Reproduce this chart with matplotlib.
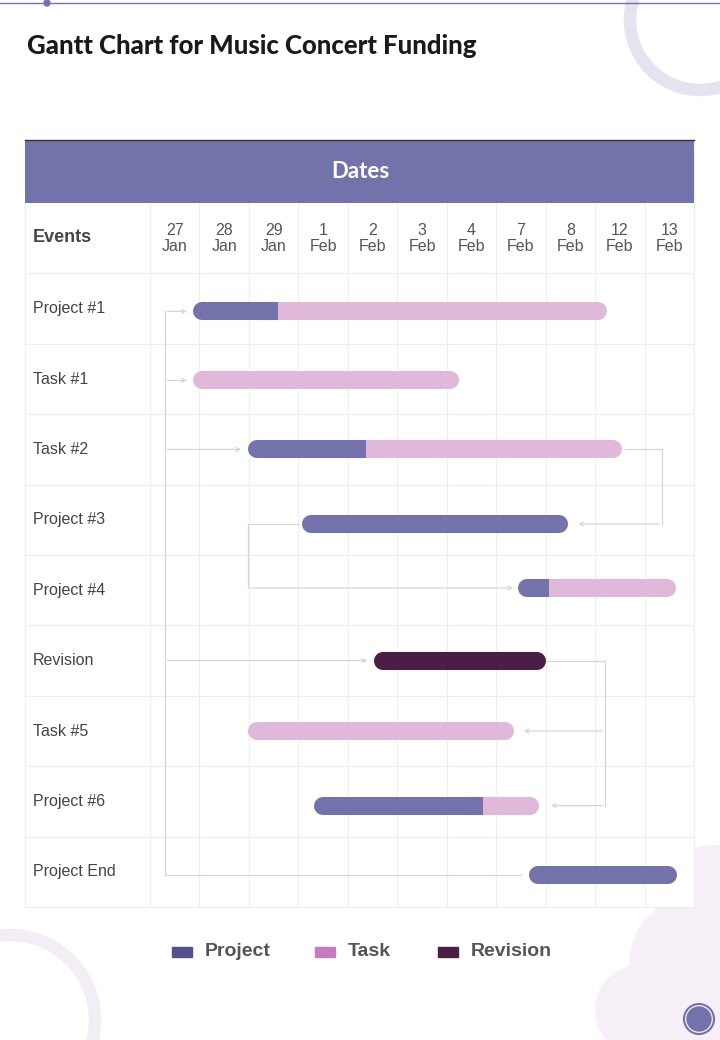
import matplotlib.pyplot as plt
from matplotlib.patches import Rectangle, Circle

events = ["Project #1", "Task #1", "Task #2", "Project #3", "Project #4",
          "Revision", "Task #5", "Project #6", "Project End"]
day_labels = ["27\nJan", "28\nJan", "29\nJan", "1\nFeb", "2\nFeb", "3\nFeb",
              "4\nFeb", "7\nFeb", "8\nFeb", "12\nFeb", "13\nFeb"]
# (start, split, end) in column units; segment before split is the dark part
bar_start = [0.87, 0.87, 1.98, 3.07, 7.44, 4.53, 1.98, 3.32, 7.66]
bar_split = [2.59, 0.87, 4.37, 8.45, 8.07, 8.00, 1.98, 6.73, 10.66]
bar_end = [9.24, 6.25, 9.54, 8.45, 10.64, 8.00, 7.36, 7.87, 10.66]
dark_kind = ["Project", "Project", "Project", "Project", "Project",
             "Revision", "Project", "Project", "Project"]

c_proj = "#7472ab"
c_task = "#e0b8d9"
c_rev = "#4a1e45"
line_c = "#d6d6da"
sans = "Liberation Sans"

W, H = 720, 1040
fig = plt.figure(figsize=(7.2, 10.4), dpi=100)
bg = fig.add_axes([0, 0, 1, 1])
bg.set_xlim(0, W)
bg.set_ylim(H, 0)
bg.axis("off")

# decorations
bg.plot([0, 720], [3, 3], color="#7472ab", lw=1)
bg.add_patch(Circle((47, 3), 3, color="#7472ab"))
bg.add_patch(Circle((700, 20), 70, fill=False, ec="#e6e3f0", lw=9))
bg.add_patch(Circle((10, 1020), 85, fill=False, ec="#f3eef5", lw=9))
for cx, cy, r in [(715, 905, 60), (690, 960, 60), (640, 1010, 45), (720, 1000, 60)]:
    bg.add_patch(Circle((cx, cy), r, color="#f6eff7", lw=0))
bg.add_patch(Circle((699, 1019), 15, fill=False, ec="#7472ab", lw=1.5))
bg.add_patch(Circle((699, 1019), 12, color="#7472ab"))

bg.text(27, 46, "Gantt Chart for Music Concert Funding", fontsize=18.5,
        fontweight="heavy", color="#1a1a1a", va="center", family="Lato")

# table frame
bg.add_patch(Rectangle((25, 140), 669, 767, fc="white", ec="#eeeeee", lw=0.8, zorder=1))
bg.add_patch(Rectangle((25, 140), 669, 63, fc=c_proj, lw=0, zorder=2))
bg.plot([25, 694], [140, 140], color="#333333", lw=1, zorder=3)
bg.text(360, 172, "Dates", fontsize=16, fontweight="bold", color="white",
        ha="center", va="center", family="Lato", zorder=3)
bg.text(33, 238, "Events", fontsize=13, fontweight="bold", color="#444444",
        va="center", family=sans)
bg.plot([150, 150], [203, 907], color="#eeeeee", lw=0.8)
bg.plot([25, 694], [273, 273], color="#eeeeee", lw=0.8)

# chart body axes
ax = fig.add_axes([150 / W, 1 - 907 / H, 544 / W, 704 / H])
ax.set_xlim(0, 11)
ax.set_ylim(9, -1)
ax.axis("off")
for i in range(12):
    ax.plot([i, i], [-1, 9], color="#eeeeee", lw=0.8, zorder=0)
for i, lab in enumerate(day_labels):
    ax.text(i + 0.5, -0.5, lab, ha="center", va="center", fontsize=11.5,
            color="#555555", linespacing=1.1, family=sans)
for j, name in enumerate(events):
    ax.plot([-2.52, 11], [j + 1, j + 1], color="#eeeeee", lw=0.8, zorder=0, clip_on=False)
    ax.text(-2.37, j + 0.5, name, fontsize=11.5, color="#444444", va="center", family=sans)

cap = 0.18
lw = 13
ys = [0.54, 0.52, 0.5, 0.56, 0.47, 0.5, 0.5, 0.56, 0.54]
for j in range(9):
    y = j + ys[j]
    s, m, e = bar_start[j], bar_split[j], bar_end[j]
    if e > m:
        ax.plot([max(m - 0.5, s) + cap, e - cap], [y, y], color=c_task, lw=lw,
                solid_capstyle="round", zorder=3)
    if m > s:
        col = c_rev if dark_kind[j] == "Revision" else c_proj
        ax.plot([s + cap, m - cap], [y, y], color=col, lw=lw,
                solid_capstyle="round", zorder=4)
        if e > m:
            ax.plot([m - cap - 0.05, m], [y, y], color=col, lw=lw,
                    solid_capstyle="butt", zorder=4)

# connectors
def arrow(x0, y0, x1, y1):
    ax.annotate("", xy=(x1, y1), xytext=(x0, y0),
                arrowprops=dict(arrowstyle="->", color=line_c, lw=0.9, mutation_scale=7),
                zorder=2)

vx = 0.3
ax.plot([vx, vx], [0.54, 8.54], color=line_c, lw=0.9, zorder=2)
ax.plot([vx, 7.5], [8.54, 8.54], color=line_c, lw=0.9, zorder=2)
for j, x1 in [(0, 0.8), (1, 0.8), (2, 1.9), (5, 4.45)]:
    arrow(vx, j + ys[j], x1, j + ys[j])
# Task #2 -> Project #3
ax.plot([9.6, 10.35, 10.35], [2.5, 2.5, 3.56], color=line_c, lw=0.9, zorder=2)
arrow(10.35, 3.56, 8.6, 3.56)
# Project #3 -> Project #4
ax.plot([3.0, 1.99, 1.99], [3.56, 3.56, 4.47], color=line_c, lw=0.9, zorder=2)
arrow(1.99, 4.47, 7.4, 4.47)
# Revision -> Task #5, Project #6
ax.plot([8.0, 9.2, 9.2], [5.5, 5.5, 7.56], color=line_c, lw=0.9, zorder=2)
arrow(9.2, 6.5, 7.5, 6.5)
arrow(9.2, 7.56, 8.05, 7.56)

# legend
for x, lab, col in [(172, "Project", "#54508a"), (315, "Task", "#c77bbe"),
                    (438, "Revision", c_rev)]:
    bg.add_patch(Rectangle((x, 947), 20, 10, color=col))
    bg.text(x + 33, 952, lab, fontsize=14, fontweight="bold", color="#555555",
            va="center", family=sans)

fig.savefig("out.png", dpi=100)
